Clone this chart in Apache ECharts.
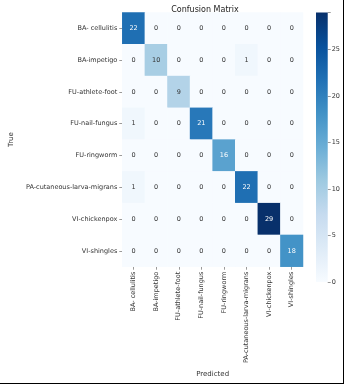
<!DOCTYPE html>
<html><head><meta charset="utf-8">
<script src="https://cdn.jsdelivr.net/npm/echarts@6/dist/echarts.min.js"></script>
<style>
html,body{margin:0;padding:0;background:#fff;}
#c{width:343px;height:383px;border-right:1px solid #000;border-bottom:1px solid #000;}
</style></head>
<body><div id="c"></div>
<script>
var classes = ["BA- cellulitis","BA-impetigo","FU-athlete-foot","FU-nail-fungus","FU-ringworm","PA-cutaneous-larva-migrans","VI-chickenpox","VI-shingles"];
var row0 = [22,0,0,0,0,0,0,0];
var row1 = [0,10,0,0,0,1,0,0];
var row2 = [0,0,9,0,0,0,0,0];
var row3 = [1,0,0,21,0,0,0,0];
var row4 = [0,0,0,0,16,0,0,0];
var row5 = [1,0,0,0,0,22,0,0];
var row6 = [0,0,0,0,0,0,29,0];
var row7 = [0,0,0,0,0,0,0,18];
var colorbarTicks = [0,5,10,15,20,25];
var vmin = 0, vmax = 29;

var rows = [row0,row1,row2,row3,row4,row5,row6,row7];
var blues = ['#f7fbff','#deebf7','#c6dbef','#9ecae1','#6baed6','#4292c6','#2171b5','#08519c','#08306b'];
var data = [];
rows.forEach(function(r, i){
  r.forEach(function(v, j){
    data.push({value:[j, i, v], label:{color: v > 13 ? '#ffffff' : '#333333'}});
  });
});
var font = 'DejaVu Sans';
var chart = echarts.init(document.getElementById('c'), null, {renderer:'canvas'});
var stops = blues.map(function(c, k){ return {offset: 1 - k/(blues.length-1), color: c}; });
chart.setOption({
  animation:false,
  textStyle:{fontFamily:font},
  title:{text:'Confusion Matrix', left:200, top:1, textAlign:'center',
    textStyle:{fontSize:8, fontWeight:'normal', color:'#222', fontFamily:font}},
  grid:[
    {left:97.5, top:12.5, width:205.5, height:269.5},
    {left:316, top:12.5, width:13, height:269.5}
  ],
  xAxis:[
    {type:'category', gridIndex:0, data:classes, position:'bottom',
     name:'Predicted', nameLocation:'middle', nameGap:95,
     nameTextStyle:{fontSize:7, color:'#333', fontFamily:font},
     axisLine:{show:false}, splitLine:{show:false},
     axisTick:{show:true, length:3, alignWithLabel:true, lineStyle:{color:'#555', width:0.6}},
     axisLabel:{rotate:90, fontSize:6.5, color:'#333', margin:5, interval:0, fontFamily:font}},
    {type:'category', gridIndex:1, data:['cb'], show:false, boundaryGap:false}
  ],
  yAxis:[
    {type:'category', gridIndex:0, data:classes, inverse:true,
     name:'True', nameLocation:'middle', nameGap:89, nameRotate:90,
     nameTextStyle:{fontSize:7, color:'#333', fontFamily:font},
     axisLine:{show:false}, splitLine:{show:false},
     axisTick:{show:true, length:3, alignWithLabel:true, lineStyle:{color:'#555', width:0.6}},
     axisLabel:{fontSize:6.5, color:'#333', margin:5, interval:0, fontFamily:font}},
    {type:'value', gridIndex:1, min:vmin, max:vmax, position:'right',
     axisLine:{show:false}, splitLine:{show:false},
     axisTick:{show:true, length:3, lineStyle:{color:'#555', width:0.6}},
     axisLabel:{fontSize:6.5, color:'#333', margin:4, fontFamily:font,
       customValues: colorbarTicks},
     customValues: colorbarTicks,
     interval:5}
  ],
  visualMap:{show:false, min:vmin, max:vmax, dimension:2, seriesIndex:0, inRange:{color:blues}},
  series:[
    {type:'heatmap', xAxisIndex:0, yAxisIndex:0, data:data,
     label:{show:true, fontSize:6.5, fontFamily:font},
     emphasis:{disabled:true}},
    {type:'bar', xAxisIndex:1, yAxisIndex:1, data:[vmax], barWidth:'100%',
     itemStyle:{color:{type:'linear', x:0, y:0, x2:0, y2:1, colorStops:stops}}}
  ]
});
</script></body></html>
